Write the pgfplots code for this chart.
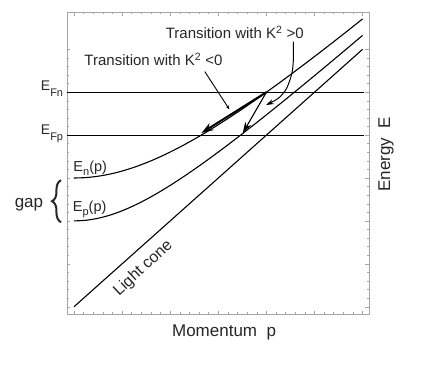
\documentclass[border=0pt]{standalone}
\usepackage{fontspec}
\setmainfont{Liberation Sans}
\usepackage{pgfplots}
\pgfplotsset{compat=1.18}
\usetikzlibrary{arrows.meta,decorations.pathreplacing}

\newcommand{\fs}[1]{\fontsize{#1}{#1}\selectfont}

\begin{document}
\begin{tikzpicture}
\begin{axis}[
  width=302pt, height=301.7pt, scale only axis,
  xmin=-0.146, xmax=6.133, ymin=-0.170, ymax=6.862,
  xtick={0,...,6}, ytick={0,...,6}, minor x tick num=4, minor y tick num=4,
  xticklabels={}, yticklabels={}, tick pos=both, tick align=inside,
  major tick length=3.5pt, minor tick length=2pt,
  tick style={gray!70, line width=0.5pt},
  axis line style={gray!70, line width=0.9pt},
  clip=false,
  ln/.style={black, no markers, line width=1.1pt},
]
% Fermi levels
\addplot[ln] coordinates {(-0.146,5) (6.03,5)};
\addplot[ln] coordinates {(-0.146,4) (6.03,4)};
% light cone
\addplot[ln] coordinates {(0,0) (6,6)};
% E_n(p)
\addplot[ln, smooth] coordinates {
  (0,3) (0.25,3.0104) (0.5,3.0414) (0.75,3.0923) (1,3.1623) (1.25,3.25)
  (1.5,3.3541) (1.75,3.4731) (2,3.6056) (2.25,3.75) (2.5,3.9051) (2.75,4.0697)
  (3,4.2426) (3.25,4.4230) (3.5,4.6098) (3.75,4.8023) (4,5) (4.25,5.2022)
  (4.5,5.4083) (4.75,5.6180) (5,5.8310) (5.25,6.0467) (5.5,6.2650) (5.75,6.4856) (6,6.7082)};
% E_p(p)
\addplot[ln, smooth] coordinates {
  (0,2) (0.25,2.0156) (0.5,2.0616) (0.75,2.1360) (1,2.2361) (1.25,2.3585)
  (1.5,2.5) (1.75,2.6575) (2,2.8284) (2.25,3.0104) (2.5,3.2016) (2.75,3.4004)
  (3,3.6056) (3.25,3.8161) (3.5,4.0311) (3.75,4.25) (4,4.4721) (4.25,4.6971)
  (4.5,4.9244) (4.75,5.1539) (5,5.3852) (5.25,5.6180) (5.5,5.8523) (5.75,6.0879) (6,6.3246)};
% transitions
\addplot[ln, line width=2pt, -{Stealth[length=12pt,width=8pt]}] coordinates {(4,5) (2.65,4.05)};
\addplot[ln, line width=1.1pt, -{Stealth[length=11pt,width=7pt]}] coordinates {(4,5) (3.51,4.05)};
\addplot[ln, line width=0.9pt, -{Stealth[length=4pt,width=3pt]}] coordinates {(2.72,5.48) (3.23,4.60)};
\addplot[ln, smooth, line width=1pt, -{Stealth[length=8pt,width=5pt]}] coordinates {
  (4.56,6.18) (4.56,5.75) (4.53,5.44) (4.42,5.09) (4.25,4.86) (3.99,4.70)};

% labels
\begin{scope}[every node/.style={text=black!85, inner sep=0pt}]
\node[anchor=base east] at (axis cs:-0.222,5.044) {\fs{14}E\raisebox{-6.5pt}{\fs{11}Fn}};
\node[anchor=base east] at (axis cs:-0.222,4.02) {\fs{14}E\raisebox{-6.5pt}{\fs{11}Fp}};
\node[anchor=base west] at (axis cs:-0.015,3.147) {\fs{14.5}E\raisebox{-3.3pt}{\fs{11}n}(p)};
\node[anchor=base west] at (axis cs:-0.027,2.214) {\fs{14.5}E\raisebox{-3.3pt}{\fs{11}p}(p)};
\node[anchor=base] at (axis cs:-0.936,2.32) {\fs{17}gap};
\node[anchor=base west] at (axis cs:1.906,6.256) {\fs{15}Transition with K\textsuperscript{2} {>}0};
\node[anchor=base west] at (axis cs:0.214,5.611) {\fs{15}Transition with K\textsuperscript{2} {<}0};
\node[rotate=43] at (axis cs:1.44,0.895) {\fs{16}Light cone};
\node[anchor=base] at (axis cs:3.12,-0.683) {\fs{17}Momentum~~p};
\node[rotate=90, anchor=base] at (axis cs:6.57,3.55) {\fs{17}Energy~~E};
\end{scope}
\draw[black!85, line width=2pt, decorate, decoration={brace, amplitude=9pt}]
  (axis cs:-0.27,1.97) -- (axis cs:-0.27,2.95);

\coordinate (bl) at (axis cs:-1.538,-1.685);
\coordinate (tr) at (axis cs:7.422,7.149);
\end{axis}
\pgfresetboundingbox
\path (bl) rectangle (tr);
\end{tikzpicture}
\end{document}
